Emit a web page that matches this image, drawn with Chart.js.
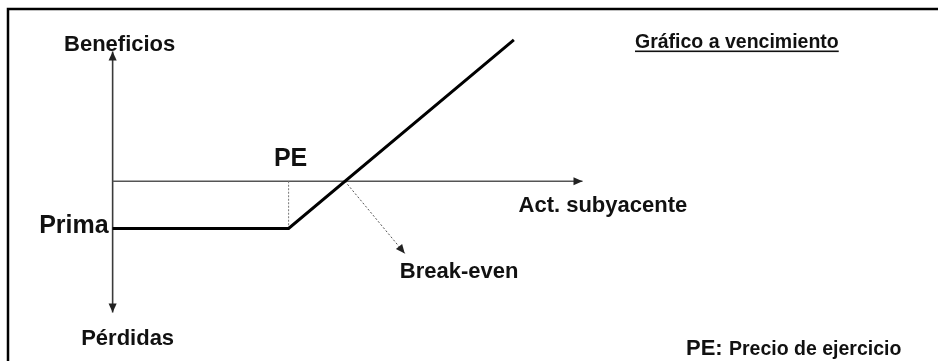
<!DOCTYPE html>
<html>
<head>
<meta charset="utf-8">
<script src="https://cdn.jsdelivr.net/npm/chart.js@4"></script>
<style>
  html, body { margin: 0; padding: 0; background: #ffffff; }
  #wrap { width: 938px; height: 361px; position: relative; }
</style>
</head>
<body>
<div id="wrap"><canvas id="c" width="938" height="361"></canvas></div>
<script>
// ---- Data (underlying price on x, profit on y) ----
const strikePrice = 100;            // PE
const premium = 32;                 // Prima (cost of the call)
const payoffPrices = [0, 100, 228]; // underlying price
const payoffValues = [-32, -32, 96];// profit at expiry
const breakEvenPrice = 132;
const priceAxisExtent = [0, 267];   // "Act. subyacente" axis
const profitAxisExtent = [-89, 88]; // "Pérdidas" .. "Beneficios"
const breakEvenPointer = [166, -49];// end of the dotted pointer
const labelsText = {
  profit: 'Beneficios',
  loss: 'Pérdidas',
  premium: 'Prima',
  strike: 'PE',
  underlying: 'Act. subyacente',
  breakEven: 'Break-even',
  title: 'Gráfico a vencimiento',
  noteKey: 'PE:',
  noteText: 'Precio de ejercicio'
};

const FONT = '"Liberation Sans", Arial, Helvetica, sans-serif';
const INK = '#111111';

const pts = (xs, ys) => xs.map((x, i) => ({ x: x, y: ys[i] }));

const datasets = [
  { // payoff line (on top)
    data: pts(payoffPrices, payoffValues),
    borderColor: '#000000', borderWidth: 3, order: 0
  },
  { // break-even pointer
    data: [{ x: breakEvenPrice, y: 0 }, { x: breakEvenPointer[0], y: breakEvenPointer[1] }],
    borderColor: '#555555', borderWidth: 1, borderDash: [2, 2], arrowEnd: true, arrowSize: 9, order: 1
  },
  { // strike dotted marker
    data: [{ x: strikePrice, y: 0 }, { x: strikePrice, y: -premium }],
    borderColor: '#777777', borderWidth: 1, borderDash: [2, 1.5], order: 2
  },
  { // horizontal axis
    data: [{ x: priceAxisExtent[0], y: 0 }, { x: priceAxisExtent[1], y: 0 }],
    borderColor: '#555555', borderWidth: 1.6, arrowEnd: true, arrowSize: 9, order: 3
  },
  { // vertical axis
    data: [{ x: 0, y: profitAxisExtent[0] }, { x: 0, y: profitAxisExtent[1] }],
    borderColor: '#3a3a3a', borderWidth: 1.6, arrowEnd: true, arrowStart: true, arrowSize: 9, order: 4
  }
].map(d => Object.assign({ showLine: true, pointRadius: 0, fill: false, tension: 0 }, d));

function arrowHead(ctx, from, to, size, color) {
  const ang = Math.atan2(to.y - from.y, to.x - from.x);
  const hw = size * 0.45;
  ctx.save();
  ctx.fillStyle = color;
  ctx.beginPath();
  ctx.moveTo(to.x, to.y);
  ctx.lineTo(to.x - size * Math.cos(ang) + hw * Math.sin(ang), to.y - size * Math.sin(ang) - hw * Math.cos(ang));
  ctx.lineTo(to.x - size * Math.cos(ang) - hw * Math.sin(ang), to.y - size * Math.sin(ang) + hw * Math.cos(ang));
  ctx.closePath();
  ctx.fill();
  ctx.restore();
}

const decorPlugin = {
  id: 'decor',
  beforeDraw(chart) {
    const ctx = chart.ctx;
    ctx.save();
    ctx.fillStyle = '#ffffff';
    ctx.fillRect(0, 0, chart.width, chart.height);
    // frame (left and top edges of the slide box)
    ctx.strokeStyle = '#000000';
    ctx.lineWidth = 2.5;
    ctx.beginPath();
    ctx.moveTo(8, chart.height + 2);
    ctx.lineTo(8, 9);
    ctx.lineTo(chart.width + 2, 9);
    ctx.stroke();
    ctx.restore();
  },
  afterDatasetsDraw(chart) {
    const ctx = chart.ctx;
    chart.data.datasets.forEach((ds, i) => {
      const meta = chart.getDatasetMeta(i);
      const p = meta.data;
      if (p.length < 2) return;
      if (ds.arrowEnd) arrowHead(ctx, p[p.length - 2], p[p.length - 1], ds.arrowSize, ds.borderColor === '#555555' && i === 1 ? '#222' : '#222');
      if (ds.arrowStart) arrowHead(ctx, p[1], p[0], ds.arrowSize, '#222');
    });

    const xs = chart.scales.x, ys = chart.scales.y;
    const x0 = xs.getPixelForValue(0);
    const y0 = ys.getPixelForValue(0);
    const yTop = ys.getPixelForValue(profitAxisExtent[1]);
    const yBot = ys.getPixelForValue(profitAxisExtent[0]);
    const xStrike = xs.getPixelForValue(strikePrice);
    const yPrem = ys.getPixelForValue(-premium);
    const xAxEnd = xs.getPixelForValue(priceAxisExtent[1]);
    const pb = { x: xs.getPixelForValue(breakEvenPointer[0]), y: ys.getPixelForValue(breakEvenPointer[1]) };

    ctx.save();
    ctx.fillStyle = INK;
    ctx.textBaseline = 'alphabetic';

    ctx.font = 'bold 22px ' + FONT;
    ctx.textAlign = 'center';
    ctx.fillText(labelsText.profit, x0 + 7, yTop - 0.5);
    ctx.fillText(labelsText.loss, x0 + 15, yBot + 33);

    ctx.font = 'bold 25px ' + FONT;
    ctx.textAlign = 'right';
    ctx.fillText(labelsText.premium, x0 - 4, yPrem + 5);
    ctx.textAlign = 'center';
    ctx.fillText(labelsText.strike, xStrike + 2, y0 - 15);

    ctx.font = 'bold 22px ' + FONT;
    ctx.textAlign = 'left';
    ctx.fillText(labelsText.breakEven, pb.x - 5, pb.y + 25);
    ctx.fillText(labelsText.underlying, xAxEnd - 64, y0 + 31);

    // title (underlined)
    ctx.font = 'bold 19.5px ' + FONT;
    const tx = 635, tyB = 48;
    ctx.fillText(labelsText.title, tx, tyB);
    const tw = ctx.measureText(labelsText.title).width;
    ctx.fillRect(tx, tyB + 2.5, tw, 1.6);

    // note
    ctx.font = 'bold 22px ' + FONT;
    ctx.fillText(labelsText.noteKey, 686, 355);
    ctx.font = 'bold 19.5px ' + FONT;
    ctx.fillText(labelsText.noteText, 729, 355);
    ctx.restore();
  }
};

new Chart(document.getElementById('c'), {
  type: 'scatter',
  data: { datasets: datasets },
  options: {
    responsive: false,
    animation: false,
    devicePixelRatio: 1,
    layout: { padding: 0 },
    plugins: { legend: { display: false }, tooltip: { enabled: false }, title: { display: false } },
    scales: {
      x: { type: 'linear', min: -64, max: 469, display: false },
      y: { type: 'linear', min: -122, max: 123, display: false }
    }
  },
  plugins: [decorPlugin]
});
</script>
</body>
</html>
